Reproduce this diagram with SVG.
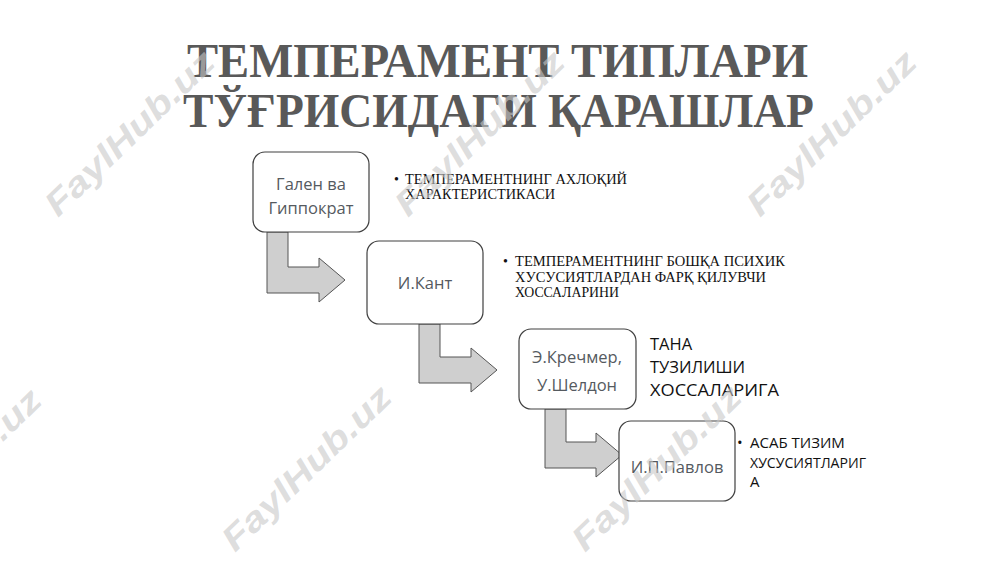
<svg xmlns="http://www.w3.org/2000/svg" width="1000" height="562" viewBox="0 0 1000 562">
<style>
.wm{font-family:"Liberation Sans",Arial,sans-serif;font-weight:bold;font-style:italic;font-size:34px;fill:#c8c8c8;fill-opacity:0.62}
.title{font-family:"Liberation Serif","Times New Roman",serif;font-weight:bold;font-size:49px;fill:#595959}
.box{fill:#ffffff;stroke:#404040;stroke-width:1.2}
.lbl{font-family:"Open Sans","Noto Sans",sans-serif;font-size:16.5px;fill:#555a60;text-anchor:middle}
.tr{font-family:"Liberation Serif","Times New Roman",serif;font-size:14px;fill:#111}
.sn{font-family:"Open Sans","Noto Sans",sans-serif;font-size:16.5px;fill:#111}
.arr{fill:#cfcfcf;stroke:#555;stroke-width:1}
</style>
<rect width="1000" height="562" fill="#ffffff"/>
<g id="title">
<text class="title" x="187" y="77" textLength="621" lengthAdjust="spacingAndGlyphs">ТЕМПЕРАМЕНТ ТИПЛАРИ</text>
<text class="title" x="183" y="127" textLength="631" lengthAdjust="spacingAndGlyphs">ТЎҒРИСИДАГИ ҚАРАШЛАР</text>
</g>
<g id="connectors">
<path class="arr" d="M267,232 h21 V267 H319 V258 L345,280 L319,302 V293 H267 Z"/>
<path class="arr" d="M419,324 h21 V357 H471 V348 L497,370 L471,392 V383 H419 Z"/>
<path class="arr" d="M545,409 h21 V442 H596 V433 L622,455 L596,477 V468 H545 Z"/>
</g>
<g id="node-galen">
<rect class="box" x="253" y="152" width="116" height="80" rx="12"/>
<text class="lbl" x="311" y="190">Гален ва</text>
<text class="lbl" x="311" y="214">Гиппократ</text>
</g>
<g id="note-galen">
<text class="tr" x="394" y="184">•</text>
<text class="tr" x="405" y="184" textLength="222" lengthAdjust="spacingAndGlyphs">ТЕМПЕРАМЕНТНИНГ АХЛОҚИЙ</text>
<text class="tr" x="405" y="199" textLength="150" lengthAdjust="spacingAndGlyphs">ХАРАКТЕРИСТИКАСИ</text>
</g>
<g id="node-kant">
<rect class="box" x="367" y="241" width="116" height="83" rx="12"/>
<text class="lbl" x="425" y="289">И.Кант</text>
</g>
<g id="note-kant">
<text class="tr" x="503" y="266">•</text>
<text class="tr" x="515" y="266" textLength="270" lengthAdjust="spacingAndGlyphs">ТЕМПЕРАМЕНТНИНГ БОШҚА ПСИХИК</text>
<text class="tr" x="515" y="282" textLength="251" lengthAdjust="spacingAndGlyphs">ХУСУСИЯТЛАРДАН ФАРҚ ҚИЛУВЧИ</text>
<text class="tr" x="515" y="297" textLength="104" lengthAdjust="spacingAndGlyphs">ХОССАЛАРИНИ</text>
</g>
<g id="node-kretschmer">
<rect class="box" x="519" y="329" width="117" height="80" rx="12"/>
<text class="lbl" x="577" y="363">Э.Кречмер,</text>
<text class="lbl" x="577" y="391">У.Шелдон</text>
</g>
<g id="note-kretschmer">
<text class="sn" x="650" y="350">ТАНА</text>
<text class="sn" x="650" y="373">ТУЗИЛИШИ</text>
<text class="sn" x="650" y="396" textLength="129" lengthAdjust="spacingAndGlyphs">ХОССАЛАРИГА</text>
</g>
<g id="node-pavlov">
<rect class="box" x="619" y="421" width="116" height="80" rx="12"/>
<text class="lbl" x="677" y="473">И.П.Павлов</text>
</g>
<g id="note-pavlov">
<text class="sn" x="737" y="448" style="font-size:15px">•</text>
<text class="sn" x="750" y="448" style="font-size:15px">АСАБ ТИЗИМ</text>
<text class="sn" x="750" y="468" style="font-size:15px" textLength="116" lengthAdjust="spacingAndGlyphs">ХУСУСИЯТЛАРИГ</text>
<text class="sn" x="750" y="487" style="font-size:15px">А</text>
</g>
<g id="watermarks">
<text class="wm" transform="translate(58,218) rotate(-44)" textLength="221" lengthAdjust="spacingAndGlyphs">FaylHub.uz</text>
<text class="wm" transform="translate(408,218) rotate(-44)" textLength="221" lengthAdjust="spacingAndGlyphs">FaylHub.uz</text>
<text class="wm" transform="translate(760,218) rotate(-44)" textLength="221" lengthAdjust="spacingAndGlyphs">FaylHub.uz</text>
<text class="wm" transform="translate(-115,556) rotate(-44)" textLength="221" lengthAdjust="spacingAndGlyphs">FaylHub.uz</text>
<text class="wm" transform="translate(235,553) rotate(-44)" textLength="221" lengthAdjust="spacingAndGlyphs">FaylHub.uz</text>
<text class="wm" transform="translate(585,553) rotate(-44)" textLength="221" lengthAdjust="spacingAndGlyphs">FaylHub.uz</text>
</g>
</svg>
